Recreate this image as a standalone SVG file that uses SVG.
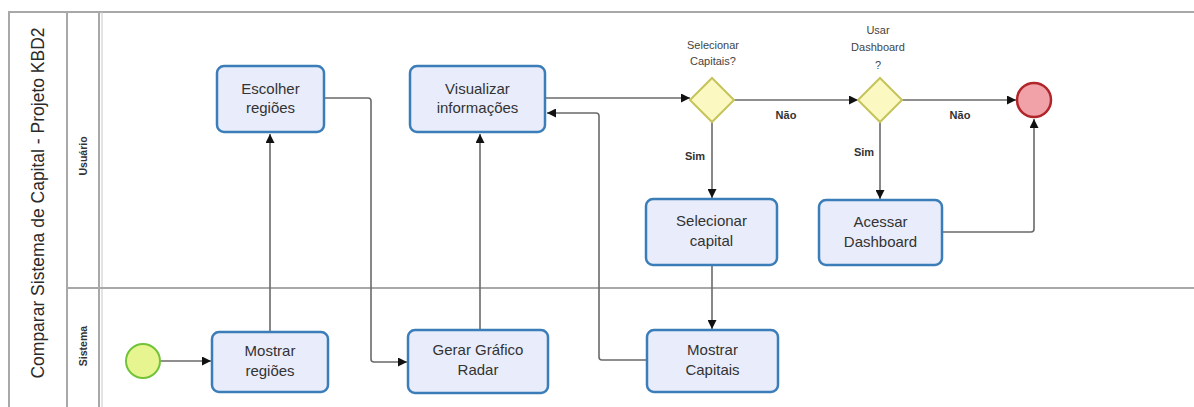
<svg xmlns="http://www.w3.org/2000/svg" width="1194" height="407" viewBox="0 0 1194 407">
<style>
.task{fill:#e9edfb;stroke:#3b7db8;stroke-width:2.5}
.gw{fill:#fbf8c2;stroke:#c5c45a;stroke-width:2}
.t{font-family:"Liberation Sans",Arial,sans-serif;font-size:15px;fill:#333;text-anchor:middle}
.s{font-family:"Liberation Sans",Arial,sans-serif;font-size:11px;fill:#444;text-anchor:middle}
.l{font-family:"Liberation Sans",Arial,sans-serif;font-size:11px;fill:#333;text-anchor:middle;font-weight:bold}
.lane{stroke:#a8a8a8;stroke-width:2;fill:none}
.c{fill:none;stroke:#6a6a6a;stroke-width:1.6;stroke-linejoin:round}
</style>
<defs>
<marker id="a" viewBox="0 0 10 10" refX="10" refY="5" markerWidth="9" markerHeight="9" markerUnits="userSpaceOnUse" orient="auto">
<path d="M0,0 L10,5 L0,10 z" fill="#111"/>
</marker>
</defs>
<g id="pool">
<path class="lane" d="M1194,12 H9 V407"/>
<line class="lane" x1="67" y1="12" x2="67" y2="407"/>
<line class="lane" x1="99" y1="12" x2="99" y2="407"/>
<line x1="102" y1="12" x2="102" y2="407" stroke="#c8c8c8" stroke-width="1"/>
<line class="lane" x1="67" y1="288" x2="1194" y2="288"/>
<text class="t" transform="translate(44,203) rotate(-90)" style="font-size:17.5px;fill:#2a2a2a">Comparar Sistema de Capital - Projeto KBD2</text>
<text class="l" transform="translate(87,156) rotate(-90)" style="font-size:10.5px">Usuário</text>
<text class="l" transform="translate(87,346) rotate(-90)" style="font-size:10.5px">Sistema</text>
</g>
<g id="connectors">
<path class="c" d="M160,361 H211" marker-end="url(#a)"/>
<path class="c" d="M270,331 V134" marker-end="url(#a)"/>
<path class="c" d="M324,98 H368 Q371,98 371,101 V359 Q371,362 374,362 H407" marker-end="url(#a)"/>
<path class="c" d="M480,330 V134" marker-end="url(#a)"/>
<path class="c" d="M545,98 H690" marker-end="url(#a)"/>
<path class="c" d="M647,360 H602 Q599,360 599,357 V116 Q599,113 596,113 H547" marker-end="url(#a)"/>
<path class="c" d="M712,122 V198" marker-end="url(#a)"/>
<path class="c" d="M734,100 H858" marker-end="url(#a)"/>
<path class="c" d="M880,122 V199" marker-end="url(#a)"/>
<path class="c" d="M902,100 H1016" marker-end="url(#a)"/>
<path class="c" d="M712,265 V329" marker-end="url(#a)"/>
<path class="c" d="M942,232 H1031 Q1034,232 1034,229 V119" marker-end="url(#a)"/>
<text class="l" x="695" y="160">Sim</text>
<text class="l" x="786" y="119">Não</text>
<text class="l" x="864" y="156">Sim</text>
<text class="l" x="960" y="119">Não</text>
</g>
<g id="start"><circle cx="143" cy="361" r="17" fill="#e6f58f" stroke="#72c33a" stroke-width="2"/></g>
<g id="end"><circle cx="1034" cy="100" r="17" fill="#f1a2a9" stroke="#b0262a" stroke-width="2.5"/></g>
<g id="escolher"><rect class="task" x="217" y="66" width="107" height="66" rx="7"/><text class="t" x="270.5" y="94">Escolher</text><text class="t" x="270.5" y="113">regiões</text></g>
<g id="visualizar"><rect class="task" x="410" y="66" width="135" height="66" rx="7"/><text class="t" x="477.5" y="94">Visualizar</text><text class="t" x="477.5" y="113">informações</text></g>
<g id="gw1"><polygon class="gw" points="712,78 734,100 712,122 690,100"/><text class="s" x="713" y="49">Selecionar</text><text class="s" x="713" y="65">Capitais?</text></g>
<g id="gw2"><polygon class="gw" points="880,78 902,100 880,122 858,100"/><text class="s" x="878" y="34">Usar</text><text class="s" x="878" y="51">Dashboard</text><text class="s" x="878" y="69">?</text></g>
<g id="selcap"><rect class="task" x="646" y="199" width="131" height="66" rx="7"/><text class="t" x="711.5" y="226">Selecionar</text><text class="t" x="711.5" y="246">capital</text></g>
<g id="acessar"><rect class="task" x="819" y="200" width="123" height="65" rx="7"/><text class="t" x="880.5" y="227">Acessar</text><text class="t" x="880.5" y="247">Dashboard</text></g>
<g id="mostrarreg"><rect class="task" x="212" y="332" width="116" height="60" rx="7"/><text class="t" x="270" y="356">Mostrar</text><text class="t" x="270" y="376">regiões</text></g>
<g id="gerar"><rect class="task" x="408" y="330" width="140" height="63" rx="7"/><text class="t" x="478" y="355">Gerar Gráfico</text><text class="t" x="478" y="375">Radar</text></g>
<g id="mostrarcap"><rect class="task" x="647" y="330" width="131" height="62" rx="7"/><text class="t" x="712.5" y="355">Mostrar</text><text class="t" x="712.5" y="375">Capitais</text></g>
</svg>
